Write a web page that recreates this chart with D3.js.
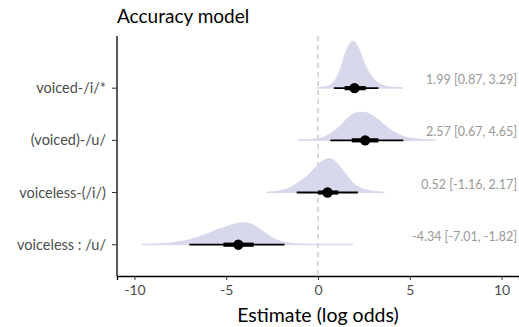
<!DOCTYPE html>
<html>
<head>
<meta charset="utf-8">
<script src="https://cdn.jsdelivr.net/npm/d3@7"></script>
<style>
  body { margin: 0; background: #fff; }
  svg { font-family: "Lato", "DejaVu Sans", sans-serif; }
</style>
</head>
<body>
<svg width="519" height="327"></svg>
<script>
// rows, top to bottom
const categories = ["voiced-/i/*", "(voiced)-/u/", "voiceless-(/i/)", "voiceless : /u/"];
const medians = [1.99, 2.57, 0.52, -4.34];
const lo95 = [0.87, 0.67, -1.16, -7.01];
const hi95 = [3.29, 4.65, 2.17, -1.82];
const lo66 = [1.45, 1.84, 0.0, -5.15];
const hi66 = [2.6, 3.29, 1.1, -3.5];
const xTicks = [-10, -5, 0, 5, 10];

// posterior density shapes (x, relative height)
const densX = [
  [-0.05, 0.5, 0.9, 1.2, 1.4, 1.6, 1.8, 1.9, 2.1, 2.3, 2.5, 2.8, 3.1, 3.5, 4.0, 4.6],
  [-1.1, -0.3, 0.3, 0.7, 1.0, 1.3, 1.6, 1.9, 2.2, 2.5, 2.8, 3.1, 3.4, 3.7, 4.0, 4.4, 4.8, 5.3, 6.4],
  [-2.8, -2.0, -1.5, -1.0, -0.5, -0.1, 0.3, 0.6, 0.8, 1.1, 1.4, 1.7, 2.0, 2.4, 2.9, 3.6],
  [-9.6, -8.5, -7.5, -7.0, -6.5, -6.0, -5.5, -5.0, -4.5, -4.1, -3.7, -3.3, -2.9, -2.5, -2.0, -1.5, -0.5, 1.9]
];
const densY = [
  [0.5, 2, 7, 18, 30, 40, 46, 47, 44, 36, 26, 15, 8, 3, 1, 0.3],
  [0.3, 1, 3, 7, 11, 16, 22, 26, 28, 28, 26.5, 23, 19, 14, 10, 6, 3, 1.5, 0.3],
  [0.3, 2, 5, 11, 18, 26, 32, 34, 33, 28, 21, 14, 8, 4, 1.5, 0.3],
  [0.3, 1, 3, 5, 8, 11, 15, 18, 21, 22, 21, 17, 12, 7, 3, 1.5, 0.5, 0.3]
];

const svg = d3.select("svg");
const mLeft = 117, mRight = 519, mTop = 36, mBottom = 276;

const x = d3.scaleLinear().domain([-10.95, 10.95]).range([mLeft, mRight]);
const y = d3.scaleLinear().domain([-1, 3.6]).range([mTop, mBottom]);
const step = y(1) - y(0);
const h = d3.scaleLinear()
  .domain([0, d3.max(densY.flat())])
  .range([0, 0.9 * step]);

// title
svg.append("text")
  .attr("x", mLeft)
  .attr("y", 23)
  .attr("font-size", "19px")
  .attr("fill", "#000")
  .text("Accuracy model");

// zero reference
svg.append("line")
  .attr("x1", x(0)).attr("x2", x(0))
  .attr("y1", mTop).attr("y2", mBottom)
  .attr("stroke", "#b3b3b3")
  .attr("stroke-width", 1)
  .attr("stroke-dasharray", "5,4");

// densities
const area = d3.area()
  .x(d => x(d[0]))
  .y0(d => d[2])
  .y1(d => d[2] - h(d[1]))
  .curve(d3.curveMonotoneX);

categories.forEach(function(c, i) {
  const base = y(i);
  const pts = densX[i].map((v, j) => [v, densY[i][j], base]);
  svg.append("path")
    .attr("d", area(pts))
    .attr("fill", "#d8d8ed")
    .attr("stroke", "#d8d8ed")
    .attr("stroke-width", 1);
});

// intervals and points
const g = svg.selectAll("g.row")
  .data(categories)
  .enter()
  .append("g")
  .attr("class", "row");

g.append("line")
  .attr("x1", (d, i) => x(lo95[i]))
  .attr("x2", (d, i) => x(hi95[i]))
  .attr("y1", (d, i) => y(i))
  .attr("y2", (d, i) => y(i))
  .attr("stroke", "#000")
  .attr("stroke-width", 1.8);

g.append("line")
  .attr("x1", (d, i) => x(lo66[i]))
  .attr("x2", (d, i) => x(hi66[i]))
  .attr("y1", (d, i) => y(i))
  .attr("y2", (d, i) => y(i))
  .attr("stroke", "#000")
  .attr("stroke-width", 4.2);

g.append("circle")
  .attr("cx", (d, i) => x(medians[i]))
  .attr("cy", (d, i) => y(i))
  .attr("r", 5.2)
  .attr("fill", "#000");

g.append("text")
  .attr("x", 517)
  .attr("y", (d, i) => y(i) - 4)
  .attr("text-anchor", "end")
  .attr("font-size", "12.5px")
  .attr("fill", "#999")
  .text((d, i) => medians[i].toFixed(2) + " [" + lo95[i].toFixed(2) + ", " + hi95[i].toFixed(2) + "]");

// y axis
svg.append("line")
  .attr("x1", mLeft).attr("x2", mLeft)
  .attr("y1", mTop).attr("y2", mBottom)
  .attr("stroke", "#000").attr("stroke-width", 1.3);

categories.forEach(function(c, i) {
  svg.append("line")
    .attr("x1", mLeft - 5).attr("x2", mLeft)
    .attr("y1", y(i)).attr("y2", y(i))
    .attr("stroke", "#333").attr("stroke-width", 1);
  svg.append("text")
    .attr("x", mLeft - 11)
    .attr("y", y(i))
    .attr("dy", "0.35em")
    .attr("text-anchor", "end")
    .attr("font-size", "14.5px")
    .attr("fill", "#4d4d4d")
    .text(c);
});

// x axis
const xAxis = svg.append("g")
  .attr("transform", "translate(0," + mBottom + ")")
  .call(d3.axisBottom(x).tickValues(xTicks).tickSize(4).tickPadding(5).tickFormat(d => String(d)));
xAxis.select(".domain").attr("stroke", "#000").attr("stroke-width", 1.3);
xAxis.selectAll(".tick line").attr("stroke", "#333");
xAxis.selectAll(".tick text")
  .attr("font-family", "Lato, sans-serif")
  .attr("font-size", "14px")
  .attr("fill", "#4d4d4d");

svg.append("text")
  .attr("x", x(0))
  .attr("y", 322)
  .attr("text-anchor", "middle")
  .attr("font-size", "19.5px")
  .attr("fill", "#000")
  .text("Estimate (log odds)");
</script>
</body>
</html>
